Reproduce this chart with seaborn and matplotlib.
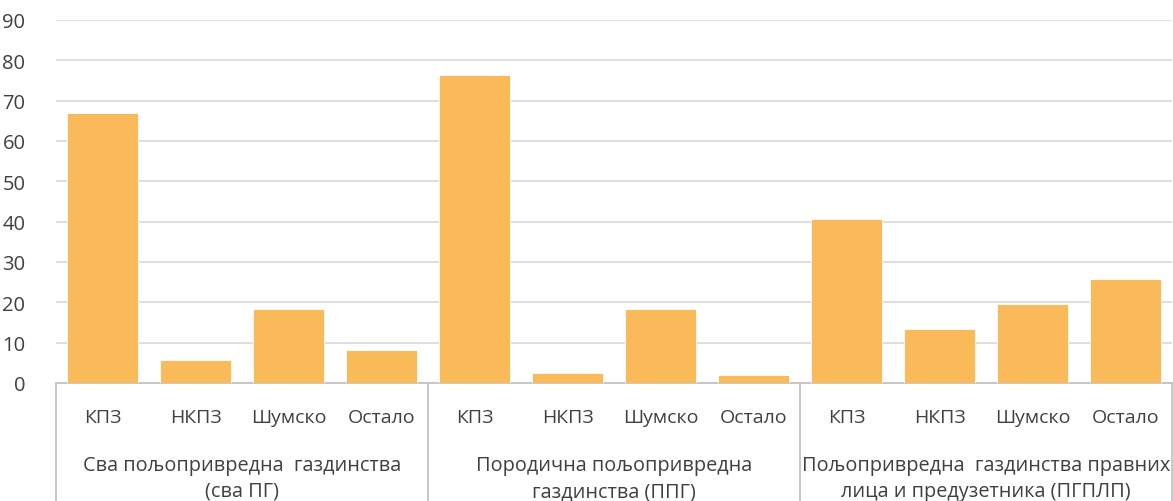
import numpy as np
import pandas as pd
import seaborn as sns
import matplotlib.pyplot as plt
from matplotlib.transforms import blended_transform_factory

groups = [
    "Сва пољопривредна  газдинства\n(сва ПГ)",
    "Породична пољопривредна\nгаздинства (ППГ)",
    "Пољопривредна  газдинства правних\nлица и предузетника (ПГПЛП)",
]
subcats = ["КПЗ", "НКПЗ", "Шумско", "Остало"]
vals_all = [67.0, 5.6, 18.4, 8.1]
vals_ppg = [76.3, 2.6, 18.4, 2.1]
vals_pglp = [40.7, 13.5, 19.5, 25.8]
y_ticks = [0, 10, 20, 30, 40, 50, 60, 70, 80, 90]

bar_color = "#FBBA5A"
text_color = "#404040"
axis_gray = "#BFBFBF"

rows = []
for g, vals in zip(groups, [vals_all, vals_ppg, vals_pglp]):
    for s, v in zip(subcats, vals):
        rows.append({"group": g, "sub": s, "key": g + "|" + s, "value": v})
df = pd.DataFrame(rows)

sns.set_style("white")
plt.rcParams["font.family"] = ["Open Sans", "DejaVu Sans"]

fig = plt.figure(figsize=(11.73, 5.02), dpi=100)
ax = fig.add_axes([56 / 1173, 1 - 384 / 502, 1116 / 1173, 363 / 502])

sns.barplot(data=df, x="key", y="value", color=bar_color, saturation=1,
            width=0.77, edgecolor="white", linewidth=0.6, ax=ax, zorder=3)

ax.set_ylim(0, 90)
ax.set_xlim(-0.5, len(df) - 0.5)
ax.set_yticks(y_ticks)
ax.set_yticklabels([str(t) for t in y_ticks], fontsize=14.5, color=text_color)
ax.yaxis.grid(True, color="#D9D9D9", linewidth=1.2, zorder=0)
ax.set_axisbelow(True)
ax.set_xlabel("")
ax.set_ylabel("")
ax.tick_params(axis="y", length=0, pad=22)
ax.tick_params(axis="x", length=0, pad=18)
ax.set_xticks(range(len(df)))
ax.set_xticklabels(df["sub"], fontsize=14, color=text_color)

for side in ["top", "right", "left"]:
    ax.spines[side].set_visible(False)
ax.spines["bottom"].set_color(axis_gray)
ax.spines["bottom"].set_linewidth(1.2)

# multi-level category axis
trans = blended_transform_factory(ax.transData, ax.transAxes)
n = len(subcats)
for i in range(len(groups) + 1):
    xpos = i * n - 0.5
    ax.plot([xpos, xpos], [0, -118 / 363], transform=trans, color=axis_gray,
            linewidth=1.2, clip_on=False)
for i, g in enumerate(groups):
    center = i * n + (n - 1) / 2
    ax.text(center, -72 / 363, g, transform=trans, ha="center", va="top",
            fontsize=14.3, color=text_color, linespacing=1.4)

fig.savefig("out.png", dpi=100)
